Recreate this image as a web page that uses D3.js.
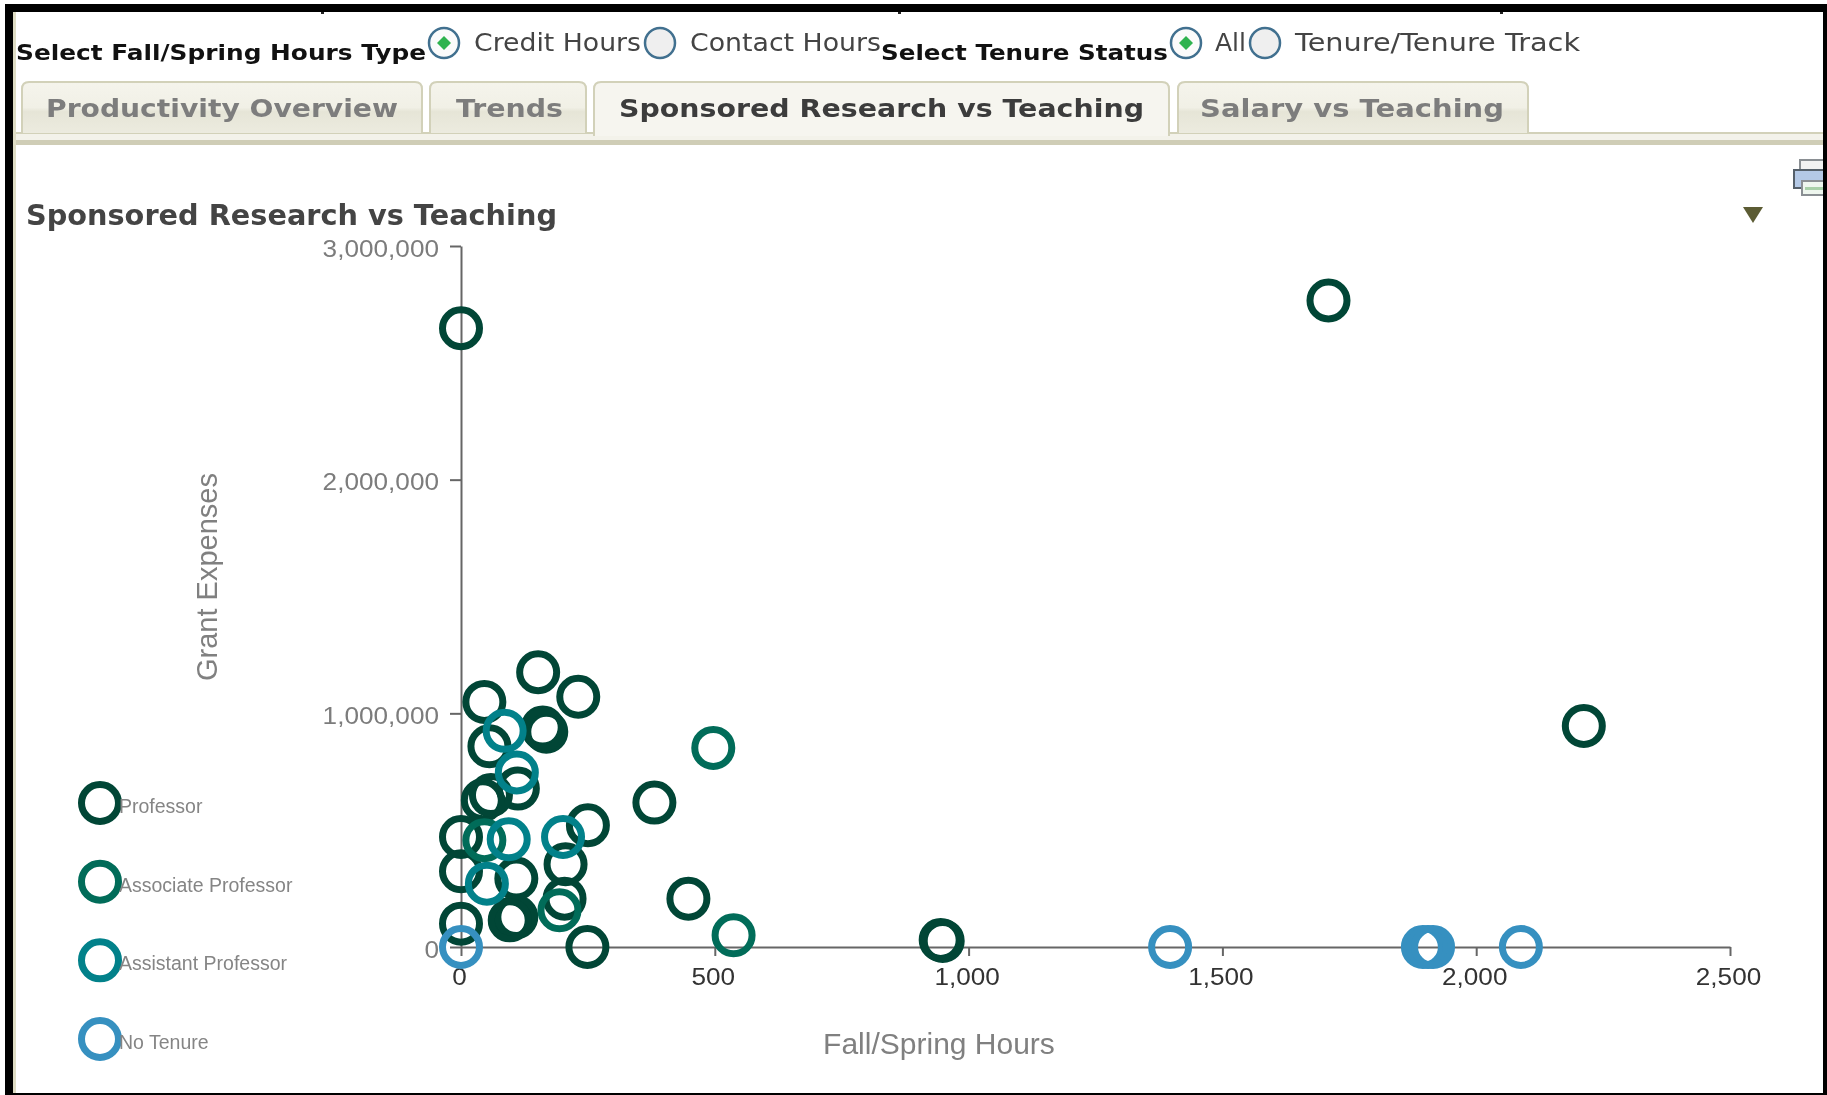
<!DOCTYPE html>
<html>
<head>
<meta charset="utf-8">
<title>Sponsored Research vs Teaching</title>
<script src="https://cdn.jsdelivr.net/npm/d3@7"></script>
<style>
  html, body { margin: 0; padding: 0; background: #fff; overflow: hidden; }
  svg { display: block; filter: blur(0.7px); }
</style>
</head>
<body>
<div id="chart"></div>
<script>
// values
var xTicks = [0, 500, 1000, 1500, 2000, 2500]
var yTicks = [0, 1000000, 2000000, 3000000]

var professorHours = [0, 1709, 2212, 152, 231, 46, 161, 168, 163, 56, 112, 43, 59, 381, 250, 0, 0, 109, 206, 204, 0, 99, 109, 96, 448, 249, 945, 949]
var professorGrants = [2648000, 2767000, 946000, 1176000, 1071000, 1049000, 939000, 921000, 931000, 859000, 678000, 628000, 650000, 618000, 521000, 471000, 324000, 293000, 354000, 207000, 100000, 121000, 128000, 114000, 207000, 0, 30000, 26000]

var associateHours = [497, 537, 46, 194]
var associateGrants = [852000, 50000, 457000, 157000]

var assistantHours = [86, 110, 94, 201, 51]
var assistantGrants = [925000, 747000, 461000, 471000, 271000]

var noTenureHours = [0, 1397, 1895, 1905, 1915, 2088]
var noTenureGrants = [0, 0, 0, 0, 0, 0]

var seriesNames = ["Professor", "Associate Professor", "Assistant Professor", "No Tenure"]
var seriesColors = ["#014636", "#016c59", "#02818a", "#3690c0"]
var seriesHours = [professorHours, associateHours, assistantHours, noTenureHours]
var seriesGrants = [professorGrants, associateGrants, assistantGrants, noTenureGrants]

var width = 1827
var height = 1095
var sans = "'Liberation Sans', Arial, sans-serif"
var bold = "'DejaVu Sans', Verdana, sans-serif"

var svg = d3.select("#chart")
  .append("svg")
    .attr("width", width)
    .attr("height", height)

var defs = svg.append("defs")
var grad = defs.append("linearGradient")
    .attr("id", "tabFill")
    .attr("x1", 0).attr("x2", 0).attr("y1", 0).attr("y2", 1)
grad.append("stop").attr("offset", "0%").attr("stop-color", "#f5f4ec")
grad.append("stop").attr("offset", "50%").attr("stop-color", "#f1f0e6")
grad.append("stop").attr("offset", "58%").attr("stop-color", "#e6e5d7")
grad.append("stop").attr("offset", "100%").attr("stop-color", "#ecebdf")

// text helper, squeezes the text to the width it has in the picture
function label(txt, x, y, w, size, color, family, weight) {
  return svg.append("text")
    .attr("x", x)
    .attr("y", y)
    .attr("textLength", w)
    .attr("lengthAdjust", "spacingAndGlyphs")
    .style("font-family", family)
    .style("font-size", size + "px")
    .style("font-weight", weight || "normal")
    .style("fill", color)
    .text(txt)
}

// controls on top
function radio(cx, on) {
  svg.append("circle")
    .attr("cx", cx).attr("cy", 43).attr("r", 15)
    .attr("fill", on ? "#fbfbfb" : "#efefef").attr("stroke", "#41708f").attr("stroke-width", 2.5)
  if (on) {
    svg.append("path")
      .attr("d", "M" + (cx - 7) + ",43L" + cx + ",36L" + (cx + 7) + ",43L" + cx + ",50Z")
      .attr("fill", "#2fb34f")
  }
}

label("Select Fall/Spring Hours Type", 16, 60, 410, 22, "#111", bold, "bold")
radio(444, true)
label("Credit Hours", 474, 51, 167, 24, "#444", bold)
radio(660, false)
label("Contact Hours", 690, 51, 191, 24, "#444", bold)
label("Select Tenure Status", 881, 60, 287, 22, "#111", bold, "bold")
radio(1186, true)
label("All", 1215, 51, 31, 24, "#444", bold)
radio(1265, false)
label("Tenure/Tenure Track", 1295, 51, 285, 24, "#444", bold)

// band under the tabs
var tabNames = ["Productivity Overview", "Trends", "Sponsored Research vs Teaching", "Salary vs Teaching"]
var tabLeft = [22, 430, 594, 1178]
var tabRight = [422, 586, 1169, 1528]
var textLeft = [46, 456, 619, 1200]
var textWidth = [352, 107, 525, 304]

svg.append("rect").attr("x", 13).attr("y", 132).attr("width", 1810).attr("height", 2)
    .attr("fill", "#d2d1b9")
svg.append("rect").attr("x", 13).attr("y", 134).attr("width", 1810).attr("height", 6)
    .attr("fill", "#f3f2ea")
svg.append("rect").attr("x", 13).attr("y", 140).attr("width", 1810).attr("height", 5)
    .attr("fill", "#cfcdb6")

tabNames.forEach(function(name, i) {
  var active = i == 2
  var l = tabLeft[i], r = tabRight[i], b = active ? 136 : 133
  svg.append("path")
    .attr("d", "M" + l + "," + b + "L" + l + ",89Q" + l + ",82 " + (l + 7) + ",82L" + (r - 7) + ",82Q" + r + ",82 " + r + ",89L" + r + "," + b)
    .attr("fill", active ? "#f6f5ef" : "url(#tabFill)")
    .attr("stroke", "#d2d1b9")
    .attr("stroke-width", 2)
  label(name, textLeft[i], 117, textWidth[i], 25, active ? "#3c3c3c" : "#7d7d7d", bold, "bold")
})

label("Sponsored Research vs Teaching", 26, 225, 531, 29, "#444", bold, "bold")

// little menu arrow
svg.append("path")
    .attr("d", "M1743,207L1763,207L1753,223Z")
    .attr("fill", "#5c5c34")

// printer icon, cut by the frame
var printer = svg.append("g")
printer.append("rect").attr("x", 1800).attr("y", 160).attr("width", 26).attr("height", 11)
    .attr("fill", "#f2f2f2").attr("stroke", "#8a8f93").attr("stroke-width", 2)
printer.append("rect").attr("x", 1794).attr("y", 170).attr("width", 32).attr("height", 18)
    .attr("fill", "#b4c9e6").attr("stroke", "#55606a").attr("stroke-width", 2)
printer.append("rect").attr("x", 1802).attr("y", 181).attr("width", 24).attr("height", 14)
    .attr("fill", "#eef6ee").attr("stroke", "#8a8f93").attr("stroke-width", 2)
printer.append("rect").attr("x", 1805).attr("y", 187).attr("width", 18).attr("height", 3)
    .attr("fill", "#a8d0a8")

// chart
var x = d3.scaleLinear()
  .domain([0, 2500])
  .range([461, 1730])
var y = d3.scaleLinear()
  .domain([0, 3000000])
  .range([947, 246])

var yAxis = svg.append("g")
    .attr("transform", "translate(461,0)")
    .call(d3.axisLeft(y).tickValues(yTicks).tickFormat(d3.format(",")).tickSize(11).tickSizeOuter(0))
var xAxis = svg.append("g")
    .attr("transform", "translate(0,947)")
    .call(d3.axisBottom(x).tickValues(xTicks).tickFormat(d3.format(",")).tickSize(9).tickSizeOuter(0))

yAxis.selectAll("path, line").attr("stroke", "#666").attr("stroke-width", 2)
xAxis.selectAll("path, line").attr("stroke", "#666").attr("stroke-width", 2)
yAxis.selectAll("text")
    .attr("x", -22)
    .attr("dy", "0.42em")
    .style("font-family", sans)
    .style("font-size", "24px")
    .style("fill", "#7c7c7c")
    .attr("lengthAdjust", "spacingAndGlyphs")
    .attr("textLength", function() { return this.getComputedTextLength() * 1.09 })
xAxis.selectAll("text")
    .attr("y", 21)
    .attr("dx", -2)
    .style("font-family", sans)
    .style("font-size", "24px")
    .style("fill", "#333")
    .attr("lengthAdjust", "spacingAndGlyphs")
    .attr("textLength", function() { return this.getComputedTextLength() * 1.09 })

svg.append("text")
    .attr("transform", "translate(217,577) rotate(-90)")
    .attr("text-anchor", "middle")
    .style("font-family", sans)
    .style("font-size", "29px")
    .style("fill", "#808080")
    .text("Grant Expenses")
svg.append("text")
    .attr("x", 939)
    .attr("y", 1054)
    .attr("text-anchor", "middle")
    .style("font-family", sans)
    .style("font-size", "30px")
    .style("fill", "#808080")
    .text("Fall/Spring Hours")

// points, drawn per series so later ones lie on top
seriesNames.forEach(function(name, i) {
  svg.append("g")
    .selectAll("circle")
    .data(seriesHours[i])
    .enter()
    .append("circle")
      .attr("cx", function(d) { return x(d) })
      .attr("cy", function(d, j) { return y(seriesGrants[i][j]) })
      .attr("r", 18.5)
      .attr("fill", "none")
      .attr("stroke", seriesColors[i])
      .attr("stroke-width", 7)
})

// legend
var legendY = d3.scalePoint()
  .domain(seriesNames)
  .range([803, 1039])
seriesNames.forEach(function(name, i) {
  svg.append("circle")
    .attr("cx", 100)
    .attr("cy", legendY(name))
    .attr("r", 18.5)
    .attr("fill", "none")
    .attr("stroke", seriesColors[i])
    .attr("stroke-width", 7)
  svg.append("text")
    .attr("x", 119)
    .attr("y", legendY(name) + 10)
    .style("font-family", sans)
    .style("font-size", "19.5px")
    .style("fill", "#858585")
    .text(name)
})

// black frame of the screenshot, with the beige inner line on the left
svg.append("rect").attr("x", 13).attr("y", 12).attr("width", 3).attr("height", 1081).attr("fill", "#dedcc4")
var frame = svg.append("g").attr("fill", "#000")
frame.append("rect").attr("x", 5).attr("y", 4).attr("width", 1822).attr("height", 8)
frame.append("rect").attr("x", 5).attr("y", 4).attr("width", 8).attr("height", 1091)
frame.append("rect").attr("x", 1823).attr("y", 4).attr("width", 4).attr("height", 1091)
frame.append("rect").attr("x", 5).attr("y", 1093).attr("width", 1822).attr("height", 2)
// specks of cut off text just below the top edge
var specks = [321, 898, 1500]
specks.forEach(function(s) {
  frame.append("rect").attr("x", s).attr("y", 12).attr("width", 3).attr("height", 2).attr("fill", "#222")
})
</script>
</body>
</html>
